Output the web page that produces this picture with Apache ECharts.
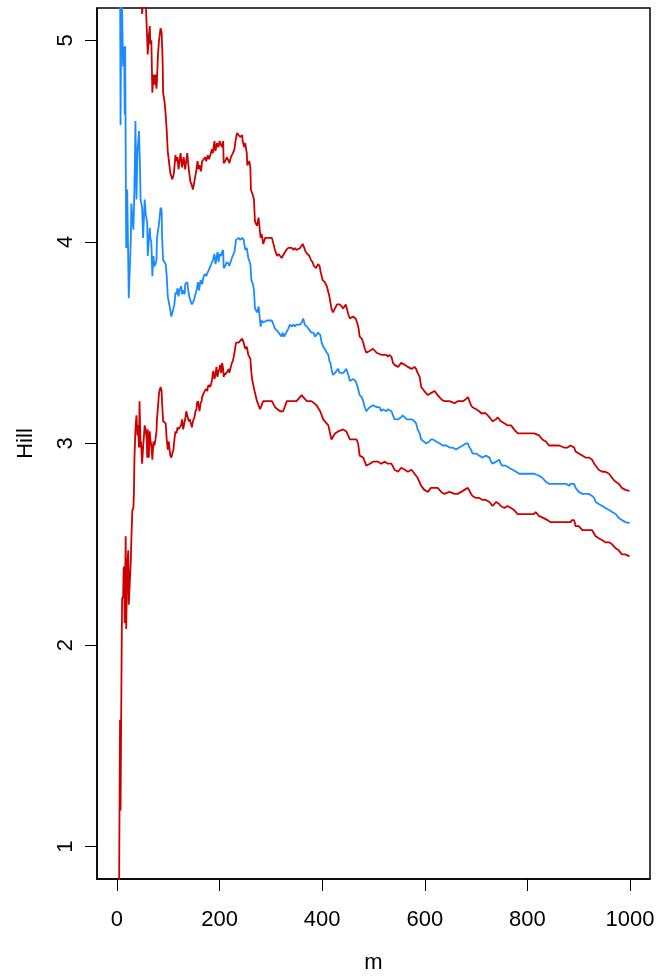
<!DOCTYPE html>
<html>
<head>
<meta charset="utf-8">
<title>Hill plot</title>
<script src="https://cdn.jsdelivr.net/npm/echarts@6/dist/echarts.min.js"></script>
<style>
  html, body { margin: 0; padding: 0; background: #fff; }
  #chart { width: 662px; height: 979px; }
</style>
</head>
<body>
<div id="chart"></div>
<script>
// Hill estimate (blue) with upper / lower confidence bands (red)
const FONT = '"Liberation Sans", Arial, Helvetica, sans-serif'
const RED = '#cd0000'
const BLUE = '#1a8cff'

const X_TICKS = [0, 200, 400, 600, 800, 1000]
const Y_TICKS = [1, 2, 3, 4, 5]

// upper band
const upperM = [4, 10, 20, 30, 40, 46, 49, 51, 56, 58, 60, 62, 64, 65, 67, 69, 71, 73, 75, 77, 78, 80, 82, 85, 87, 89, 90, 93, 95, 97, 99, 102, 104, 108, 111, 114, 116, 118, 120, 124, 127, 130, 133, 137, 140, 143, 146, 148, 151, 155, 157, 159, 161, 164, 166, 169, 172, 174, 177, 179, 182, 185, 187, 190, 192, 195, 198, 200, 203, 205, 207, 208, 211, 214, 218, 219, 222, 226, 229, 231, 234, 237, 240, 244, 245, 248, 250, 253, 254, 258, 260, 261, 265, 267, 269, 273, 276, 278, 280, 282, 285, 289, 295, 302, 305, 308, 312, 315, 318, 321, 323, 326, 330, 334, 337, 341, 344, 347, 350, 357, 360, 362, 365, 368, 371, 375, 378, 381, 384, 388, 392, 395, 397, 401, 405, 409, 412, 414, 416, 418, 421, 425, 429, 434, 438, 441, 446, 449, 451, 454, 457, 460, 465, 468, 471, 473, 477, 480, 483, 486, 489, 493, 499, 506, 509, 515, 518, 525, 528, 531, 535, 538, 541, 548, 554, 557, 561, 567, 574, 580, 583, 586, 590, 593, 599, 606, 612, 619, 625, 632, 638, 648, 658, 664, 674, 680, 684, 687, 690, 693, 700, 706, 710, 713, 719, 726, 729, 732, 739, 742, 745, 748, 755, 761, 768, 774, 781, 787, 797, 807, 813, 816, 823, 829, 836, 842, 852, 862, 871, 878, 884, 887, 891, 894, 900, 907, 913, 920, 926, 930, 933, 939, 946, 952, 959, 965, 968, 972, 978, 984, 991, 999]
const upperV = [12, 9, 7, 6.3, 6.1, 5.5, 5.13, 5.2, 5.2, 5.2, 4.93, 5.02, 5.07, 4.98, 5.0, 4.74, 4.83, 4.78, 4.83, 4.76, 4.80, 4.93, 5.0, 5.06, 5.04, 4.90, 4.74, 4.69, 4.63, 4.55, 4.45, 4.45, 4.34, 4.31, 4.34, 4.43, 4.40, 4.42, 4.36, 4.44, 4.37, 4.42, 4.36, 4.44, 4.36, 4.30, 4.28, 4.26, 4.30, 4.36, 4.40, 4.36, 4.38, 4.35, 4.40, 4.41, 4.42, 4.40, 4.43, 4.41, 4.43, 4.46, 4.44, 4.50, 4.45, 4.49, 4.47, 4.50, 4.48, 4.47, 4.50, 4.39, 4.40, 4.42, 4.40, 4.39, 4.42, 4.44, 4.46, 4.50, 4.54, 4.53, 4.52, 4.53, 4.50, 4.47, 4.49, 4.44, 4.38, 4.40, 4.37, 4.26, 4.23, 4.21, 4.10, 4.08, 4.12, 4.07, 4.02, 4.04, 3.99, 4.02, 4.02, 4.02, 3.99, 3.96, 3.93, 3.94, 3.93, 3.92, 3.93, 3.93, 3.96, 3.97, 3.97, 3.97, 3.96, 3.97, 3.96, 3.97, 3.97, 3.99, 3.97, 3.95, 3.94, 3.93, 3.91, 3.90, 3.88, 3.87, 3.89, 3.88, 3.85, 3.81, 3.80, 3.78, 3.75, 3.73, 3.70, 3.67, 3.65, 3.67, 3.69, 3.69, 3.68, 3.67, 3.69, 3.69, 3.64, 3.62, 3.62, 3.63, 3.62, 3.60, 3.57, 3.53, 3.52, 3.50, 3.47, 3.45, 3.45, 3.46, 3.47, 3.45, 3.45, 3.44, 3.44, 3.44, 3.43, 3.44, 3.43, 3.40, 3.39, 3.38, 3.40, 3.40, 3.39, 3.38, 3.37, 3.38, 3.37, 3.35, 3.33, 3.28, 3.26, 3.24, 3.25, 3.26, 3.24, 3.22, 3.21, 3.21, 3.20, 3.21, 3.21, 3.22, 3.23, 3.21, 3.19, 3.18, 3.17, 3.16, 3.15, 3.15, 3.15, 3.13, 3.12, 3.11, 3.12, 3.13, 3.12, 3.11, 3.10, 3.09, 3.09, 3.07, 3.05, 3.05, 3.05, 3.05, 3.05, 3.05, 3.04, 3.02, 3.01, 2.99, 2.99, 2.99, 2.98, 2.98, 2.99, 2.99, 2.98, 2.96, 2.95, 2.94, 2.93, 2.93, 2.92, 2.90, 2.89, 2.87, 2.86, 2.86, 2.85, 2.83, 2.82, 2.81, 2.80, 2.78, 2.77, 2.765]

// Hill estimate
const hillM = [4, 6, 7, 9, 10, 12, 14, 15, 16, 18, 20, 23, 27, 28, 32, 33, 35, 36, 38, 40, 43, 45, 46, 49, 51, 54, 56, 59, 60, 64, 65, 67, 69, 71, 73, 75, 77, 78, 82, 85, 87, 88, 90, 95, 97, 99, 102, 104, 106, 110, 112, 114, 116, 118, 120, 122, 125, 127, 129, 132, 133, 137, 140, 143, 146, 150, 153, 156, 158, 160, 163, 166, 169, 172, 174, 177, 179, 182, 185, 187, 190, 192, 194, 196, 198, 200, 203, 205, 207, 208, 211, 214, 218, 219, 224, 229, 232, 237, 240, 244, 247, 250, 253, 256, 260, 262, 265, 267, 269, 273, 276, 278, 280, 282, 285, 292, 298, 302, 305, 308, 312, 315, 318, 321, 323, 326, 330, 334, 337, 341, 344, 347, 350, 357, 360, 363, 366, 370, 373, 376, 379, 383, 386, 389, 392, 396, 399, 402, 405, 409, 412, 414, 416, 418, 421, 425, 428, 431, 434, 441, 447, 451, 454, 457, 460, 465, 468, 471, 473, 477, 480, 483, 486, 489, 493, 499, 506, 509, 512, 515, 518, 525, 528, 531, 535, 538, 541, 548, 551, 554, 557, 561, 564, 567, 574, 577, 580, 583, 586, 590, 593, 596, 603, 609, 612, 616, 619, 622, 629, 635, 642, 648, 654, 661, 664, 667, 674, 680, 684, 687, 690, 693, 700, 706, 713, 719, 726, 729, 732, 739, 745, 748, 751, 758, 764, 771, 778, 784, 790, 797, 807, 813, 816, 823, 829, 836, 842, 849, 855, 862, 868, 875, 881, 884, 887, 891, 894, 900, 907, 913, 920, 926, 930, 933, 939, 946, 952, 959, 965, 972, 978, 984, 991, 999]
const hillV = [5.6, 5.4, 4.58, 5.3, 5.15, 4.87, 4.97, 4.63, 4.97, 3.97, 4.26, 3.72, 4.01, 4.19, 4.06, 4.15, 4.40, 4.60, 4.21, 4.45, 4.55, 4.36, 4.21, 4.17, 4.02, 4.21, 4.14, 4.09, 3.93, 4.07, 4.02, 4.00, 3.83, 3.93, 3.88, 3.89, 3.91, 4.02, 4.09, 4.17, 4.16, 4.02, 3.91, 3.89, 3.83, 3.73, 3.73, 3.66, 3.63, 3.67, 3.69, 3.75, 3.74, 3.77, 3.73, 3.76, 3.78, 3.74, 3.76, 3.74, 3.79, 3.80, 3.74, 3.71, 3.69, 3.71, 3.74, 3.77, 3.80, 3.76, 3.81, 3.79, 3.83, 3.84, 3.83, 3.85, 3.86, 3.88, 3.88, 3.91, 3.94, 3.89, 3.92, 3.95, 3.90, 3.94, 3.93, 3.95, 3.96, 3.87, 3.88, 3.90, 3.89, 3.88, 3.92, 3.95, 4.01, 4.02, 4.01, 4.02, 4.01, 3.96, 3.97, 3.92, 3.89, 3.81, 3.79, 3.76, 3.67, 3.65, 3.68, 3.63, 3.58, 3.61, 3.60, 3.61, 3.61, 3.61, 3.59, 3.57, 3.56, 3.55, 3.55, 3.53, 3.55, 3.53, 3.55, 3.57, 3.59, 3.58, 3.59, 3.58, 3.59, 3.59, 3.60, 3.62, 3.59, 3.58, 3.57, 3.56, 3.55, 3.55, 3.53, 3.54, 3.55, 3.54, 3.50, 3.48, 3.47, 3.45, 3.44, 3.41, 3.40, 3.37, 3.34, 3.35, 3.36, 3.37, 3.35, 3.35, 3.37, 3.34, 3.31, 3.31, 3.32, 3.31, 3.29, 3.26, 3.24, 3.23, 3.21, 3.18, 3.16, 3.17, 3.18, 3.19, 3.18, 3.18, 3.18, 3.16, 3.17, 3.16, 3.17, 3.17, 3.16, 3.14, 3.12, 3.12, 3.12, 3.13, 3.14, 3.13, 3.12, 3.12, 3.12, 3.12, 3.11, 3.10, 3.07, 3.05, 3.02, 3.02, 3.00, 3.01, 3.02, 3.02, 3.02, 3.01, 3.00, 2.99, 2.99, 2.98, 2.98, 2.97, 2.97, 2.98, 2.99, 3.00, 3.00, 2.98, 2.97, 2.95, 2.95, 2.94, 2.93, 2.94, 2.93, 2.91, 2.90, 2.91, 2.92, 2.90, 2.89, 2.89, 2.88, 2.87, 2.86, 2.85, 2.85, 2.85, 2.85, 2.85, 2.85, 2.84, 2.83, 2.81, 2.80, 2.80, 2.80, 2.80, 2.80, 2.80, 2.79, 2.80, 2.80, 2.80, 2.78, 2.76, 2.75, 2.75, 2.75, 2.74, 2.73, 2.71, 2.70, 2.69, 2.68, 2.67, 2.66, 2.65, 2.63, 2.62, 2.61, 2.605]

// lower band
const lowerM = [3, 4, 5, 6, 7, 9, 10, 12, 13, 14, 15, 16, 17, 18, 20, 22, 23, 25, 27, 28, 30, 32, 33, 34, 36, 38, 40, 41, 43, 44, 46, 47, 49, 51, 52, 54, 56, 58, 59, 60, 62, 64, 65, 67, 69, 71, 73, 75, 77, 78, 82, 85, 87, 88, 90, 93, 95, 97, 99, 101, 104, 106, 110, 112, 114, 116, 118, 120, 122, 125, 127, 129, 132, 133, 135, 138, 140, 142, 145, 146, 148, 151, 153, 155, 156, 158, 159, 161, 163, 165, 166, 169, 171, 173, 176, 177, 179, 181, 183, 185, 187, 188, 190, 192, 194, 195, 196, 198, 200, 201, 203, 205, 207, 208, 210, 211, 213, 216, 218, 219, 222, 224, 226, 229, 232, 237, 240, 244, 247, 250, 253, 256, 260, 262, 264, 269, 273, 279, 285, 295, 302, 308, 318, 324, 331, 341, 350, 360, 363, 370, 379, 389, 396, 402, 412, 418, 425, 431, 441, 447, 454, 460, 467, 470, 473, 480, 486, 493, 499, 509, 515, 522, 528, 535, 541, 548, 554, 561, 567, 574, 580, 586, 593, 599, 606, 612, 619, 625, 632, 638, 648, 658, 664, 671, 677, 684, 690, 693, 700, 706, 713, 719, 726, 732, 739, 745, 748, 755, 761, 768, 774, 781, 787, 803, 813, 816, 823, 832, 839, 845, 852, 862, 871, 878, 884, 887, 891, 894, 900, 907, 913, 920, 926, 933, 939, 946, 952, 959, 965, 972, 978, 984, 991, 999]
const lowerV = [0.4, 0.7, 1.2, 1.63, 1.18, 1.93, 2.23, 2.24, 2.38, 2.39, 2.11, 2.11, 2.54, 2.08, 2.39, 2.47, 2.20, 2.20, 2.42, 2.52, 2.67, 2.68, 2.75, 2.92, 3.07, 3.14, 3.04, 3.09, 2.98, 3.21, 2.98, 3.01, 2.90, 2.98, 2.98, 3.09, 3.07, 3.02, 2.93, 3.07, 2.93, 3.06, 3.02, 2.99, 2.92, 3.01, 2.99, 3.02, 3.06, 3.12, 3.25, 3.28, 3.26, 3.20, 3.11, 3.11, 3.10, 3.02, 2.97, 3.01, 2.94, 2.93, 2.97, 3.02, 3.06, 3.05, 3.08, 3.07, 3.07, 3.09, 3.12, 3.07, 3.11, 3.12, 3.16, 3.13, 3.11, 3.12, 3.09, 3.08, 3.11, 3.13, 3.16, 3.17, 3.20, 3.21, 3.19, 3.16, 3.20, 3.21, 3.23, 3.25, 3.26, 3.27, 3.26, 3.28, 3.29, 3.28, 3.29, 3.31, 3.35, 3.36, 3.32, 3.34, 3.38, 3.35, 3.33, 3.36, 3.37, 3.39, 3.35, 3.40, 3.37, 3.33, 3.35, 3.34, 3.35, 3.36, 3.37, 3.35, 3.38, 3.40, 3.41, 3.45, 3.50, 3.50, 3.50, 3.52, 3.50, 3.47, 3.48, 3.44, 3.42, 3.35, 3.31, 3.25, 3.21, 3.17, 3.21, 3.21, 3.21, 3.18, 3.16, 3.16, 3.21, 3.21, 3.21, 3.24, 3.23, 3.21, 3.21, 3.19, 3.16, 3.12, 3.09, 3.02, 3.05, 3.06, 3.07, 3.06, 3.02, 3.02, 3.02, 3.00, 2.94, 2.93, 2.89, 2.90, 2.91, 2.91, 2.90, 2.91, 2.90, 2.90, 2.87, 2.86, 2.88, 2.87, 2.86, 2.87, 2.85, 2.83, 2.79, 2.77, 2.76, 2.78, 2.78, 2.78, 2.76, 2.75, 2.76, 2.75, 2.75, 2.76, 2.77, 2.78, 2.75, 2.74, 2.73, 2.73, 2.72, 2.72, 2.71, 2.69, 2.71, 2.70, 2.69, 2.68, 2.69, 2.68, 2.67, 2.65, 2.65, 2.65, 2.65, 2.66, 2.64, 2.63, 2.62, 2.61, 2.61, 2.61, 2.61, 2.61, 2.61, 2.62, 2.62, 2.59, 2.59, 2.57, 2.57, 2.57, 2.57, 2.54, 2.53, 2.52, 2.51, 2.51, 2.50, 2.48, 2.47, 2.45, 2.45, 2.44]

const pairs = (ms, vs) => ms.map((m, i) => [m, vs[i]])
const plain = v => String(v)

function lineSeries(name, data, color) {
  return {
    name,
    type: 'line',
    data,
    symbol: 'none',
    showSymbol: false,
    clip: true,
    silent: true,
    lineStyle: { color, width: 1.8 },
    z: 2
  }
}

const chart = echarts.init(document.getElementById('chart'), null, { renderer: 'canvas' })
chart.setOption({
  animation: false,
  backgroundColor: '#fff',
  textStyle: { fontFamily: FONT, color: '#000' },
  grid: {
    left: 97, right: 12, top: 8, bottom: 100,
    show: true, borderColor: '#000', borderWidth: 1.5, backgroundColor: 'transparent'
  },
  xAxis: {
    type: 'value',
    min: -38.9,
    max: 1038.9,
    name: 'm',
    nameLocation: 'middle',
    nameGap: 73,
    nameTextStyle: { fontSize: 22, color: '#000', fontFamily: FONT },
    axisLine: { show: true, onZero: false, lineStyle: { color: '#000', width: 1.5 } },
    splitLine: { show: false },
    axisTick: { show: true, inside: false, length: 12, lineStyle: { color: '#000', width: 1 }, customValues: X_TICKS },
    axisLabel: { fontSize: 22, color: '#000', fontFamily: FONT, margin: 30, customValues: X_TICKS, formatter: plain }
  },
  yAxis: {
    type: 'value',
    min: 0.84,
    max: 5.16,
    name: 'Hill',
    nameLocation: 'middle',
    nameGap: 60,
    nameTextStyle: { fontSize: 22, color: '#000', fontFamily: FONT },
    axisLine: { show: true, onZero: false, lineStyle: { color: '#000', width: 1.5 } },
    splitLine: { show: false },
    axisTick: { show: true, inside: false, length: 12, lineStyle: { color: '#000', width: 1 }, customValues: Y_TICKS },
    axisLabel: { fontSize: 22, color: '#000', fontFamily: FONT, margin: 20, rotate: 90, customValues: Y_TICKS, formatter: plain }
  },
  series: [
    lineSeries('upper', pairs(upperM, upperV), RED),
    lineSeries('Hill', pairs(hillM, hillV), BLUE),
    lineSeries('lower', pairs(lowerM, lowerV), RED)
  ]
})
</script>
</body>
</html>
